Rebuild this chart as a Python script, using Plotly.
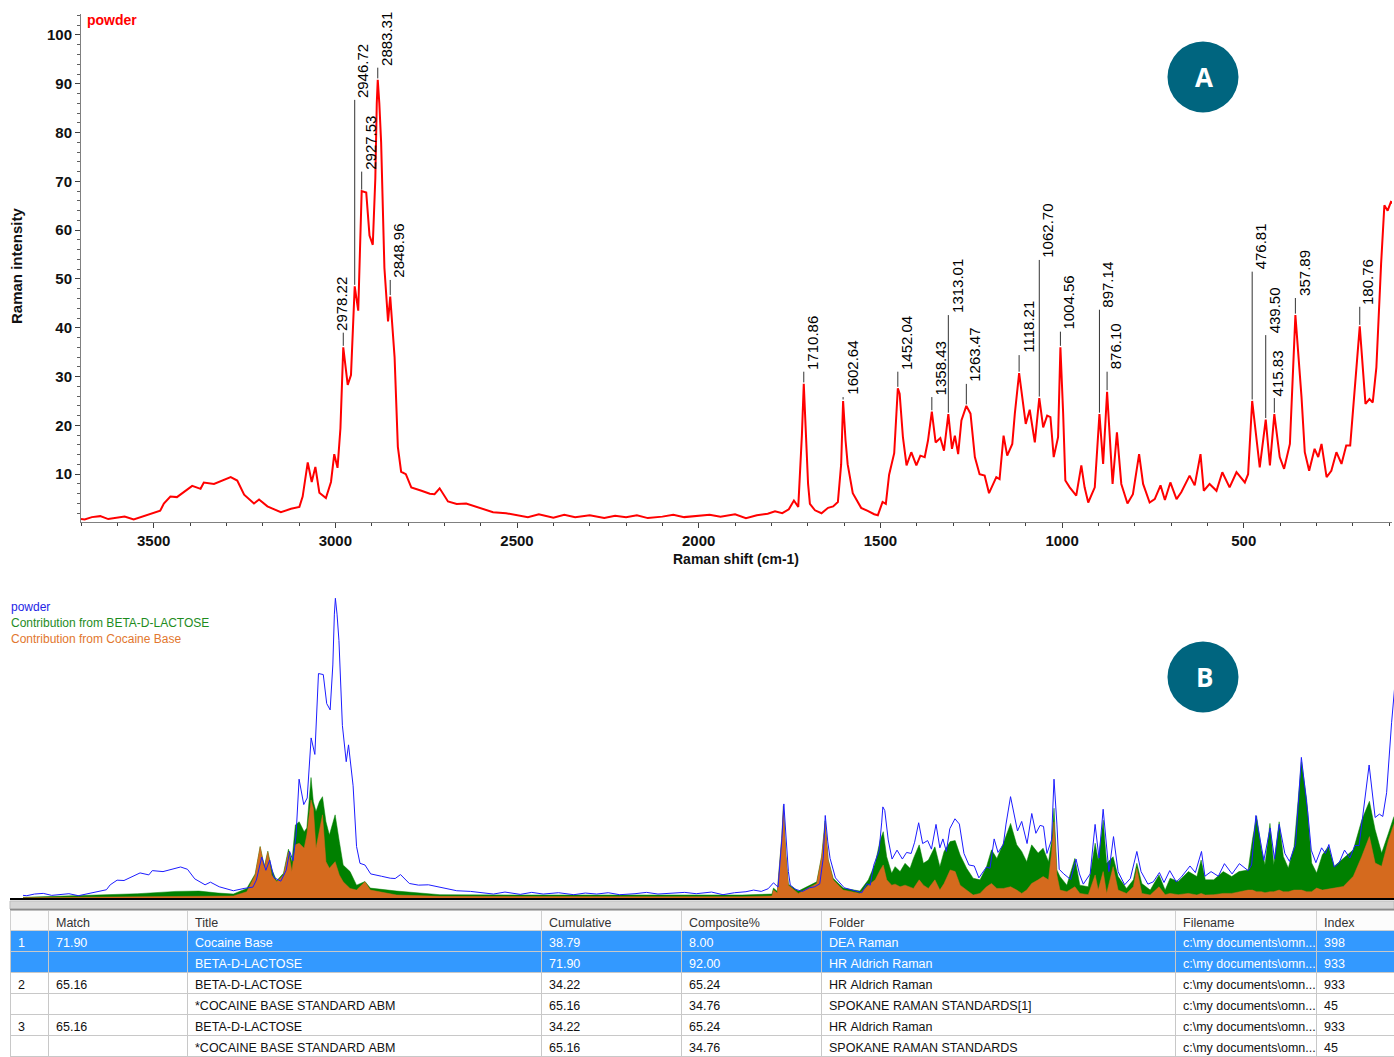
import plotly.graph_objects as go

# ---------------- data ----------------
shift = [3700, 3690, 3670, 3647, 3625, 3601, 3580, 3555, 3528, 3500, 3482, 3472, 3454, 3436, 3417, 3394,
         3371, 3362, 3334, 3307, 3288, 3270, 3251, 3224, 3210, 3187, 3150, 3122, 3099, 3090, 3076, 3065,
         3055, 3044, 3026, 3012, 3003, 2994, 2986, 2978.22, 2966, 2957, 2946.72, 2937, 2927.53, 2915,
         2906, 2897, 2890, 2886, 2883.31, 2879, 2874, 2865, 2855, 2848.96, 2837, 2828, 2819, 2806, 2791,
         2763, 2740, 2727, 2713, 2690, 2666, 2640, 2611, 2566, 2530, 2500, 2470, 2440, 2400, 2370, 2340,
         2300, 2260, 2230, 2200, 2170, 2140, 2100, 2070, 2040, 2000, 1970, 1940, 1900, 1870, 1840, 1810,
         1790, 1770, 1752, 1738, 1726, 1716, 1710.86, 1706, 1699, 1694, 1680, 1662, 1644, 1630, 1617,
         1608, 1602.64, 1596, 1590, 1576, 1553, 1535, 1517, 1507, 1494, 1485, 1476, 1462, 1455, 1452.04,
         1447, 1438, 1428, 1415, 1401, 1390, 1378, 1369, 1358.43, 1348, 1335, 1325, 1313.01, 1303, 1295,
         1286, 1277, 1263.47, 1252, 1240, 1227, 1213, 1201, 1181, 1172, 1161, 1151, 1137, 1130, 1118.21,
         1100, 1089, 1075, 1062.70, 1052, 1041, 1032, 1023, 1011, 1004.56, 997, 991, 979, 961, 947, 938,
         928, 910, 897.14, 887, 876.10, 861, 849, 837, 820, 805, 788, 777, 759, 745, 729, 717, 702, 685,
         672, 649, 635, 619, 610, 594, 575, 559, 539, 520, 497, 488, 476.81, 456, 439.50, 428, 415.83,
         401, 389, 373, 357.89, 341, 332, 320, 305, 295, 286, 272, 259, 245, 231, 218, 207, 195, 180.76,
         165, 154, 145, 135, 122, 113, 104, 95, 88]
powder = [0.8, 0.7, 1.2, 1.4, 0.8, 1.0, 1.3, 0.7, 1.4, 2.1, 2.5, 4.0, 5.4, 5.3, 6.3, 7.6,
          7.0, 8.3, 8.0, 8.9, 9.4, 8.7, 5.8, 4.0, 4.8, 3.4, 2.2, 2.9, 3.3, 5.4, 12.4, 8.4,
          11.5, 6.2, 5.1, 8.4, 14.1, 11.3, 19.4, 36.0, 28.3, 30.3, 48.5, 43.5, 68.0, 67.7,
          58.9, 57.0, 70.6, 86.0, 90.8, 86.0, 78.0, 52.3, 41.3, 46.4, 34.0, 15.6, 10.5, 10.0, 7.3,
          6.6, 6.0, 5.9, 7.1, 4.4, 3.9, 4.0, 3.3, 2.2, 2.0, 1.6, 1.2, 1.8, 1.1, 1.7, 1.2,
          1.6, 1.0, 1.5, 1.2, 1.6, 1.0, 1.3, 1.7, 1.2, 1.4, 1.7, 1.3, 1.8, 1.0, 1.6, 1.9,
          2.4, 2.0, 2.8, 4.6, 3.3, 18.0, 28.5, 20.0, 8.0, 3.9, 2.6, 2.0, 3.1, 3.4, 4.3,
          12.0, 25.0, 17.0, 12.0, 6.1, 3.1, 2.5, 1.8, 1.6, 4.3, 3.9, 9.9, 14.3, 23.0, 27.6,
          26.5, 17.6, 11.8, 14.5, 11.8, 13.8, 13.5, 16.9, 22.8, 16.5, 17.4, 14.8, 22.3, 15.2, 17.9,
          14.1, 21.0, 24.0, 22.4, 13.5, 10.0, 9.7, 6.1, 9.4, 9.0, 17.9, 13.8, 16.2, 22.4, 30.7,
          20.3, 23.2, 16.5, 25.6, 19.6, 22.0, 21.7, 13.5, 17.6, 36.0, 22.4, 8.7, 7.3, 5.6, 11.8, 7.3,
          4.2, 7.3, 22.3, 12.1, 26.9, 8.0, 18.6, 8.0, 4.0, 5.9, 14.1, 8.0, 4.2, 4.9, 7.7, 4.7, 8.3, 4.9,
          6.3, 9.7, 7.7, 14.1, 6.6, 8.0, 6.6, 10.4, 7.3, 10.4, 8.3, 10.0, 25.0, 11.4, 21.2, 11.8, 22.3,
          13.5, 11.1, 16.2, 42.6, 25.8, 14.5, 10.7, 15.2, 13.5, 16.2, 9.4, 10.7, 14.5, 12.1, 15.9, 15.9, 27.1, 40.3,
          24.4, 25.4, 24.7, 31.9, 53.1, 65.1, 64.0, 65.8, 65.5]

peak_shifts = [2978.22, 2946.72, 2927.53, 2883.31, 2848.96, 1710.86, 1602.64, 1452.04, 1358.43,
               1313.01, 1263.47, 1118.21, 1062.70, 1004.56, 897.14, 876.10, 476.81, 439.50, 415.83,
               357.89, 180.76]

comp_shift = [3700, 3600, 3500, 3400, 3300, 3240, 3190, 3150, 3115, 3093, 3080, 3069, 3060, 3050, 3037,
              3019, 3006, 2997, 2988, 2978, 2965, 2958, 2947, 2941, 2934, 2925, 2917, 2908, 2899, 2884,
              2873, 2863, 2845, 2828, 2806, 2792, 2723, 2610, 2400, 2100, 1820, 1742, 1738, 1728, 1716,
              1712, 1706, 1699, 1673, 1625, 1612, 1603, 1595, 1582, 1556, 1512, 1490, 1472, 1459, 1451,
              1442, 1429, 1420, 1407, 1394, 1381, 1372, 1357, 1346, 1333, 1316, 1303, 1292, 1276, 1263,
              1250, 1233, 1216, 1198, 1181, 1168, 1154, 1137, 1118, 1102, 1089, 1076, 1063, 1046, 1033,
              1019, 1011, 1004.5, 997, 989, 971, 950, 937, 915, 897, 889, 876, 867, 850, 837, 815, 797,
              788, 775, 753, 730, 714, 701, 680, 653, 631, 620, 609, 587, 562, 540, 521, 497, 486, 475,
              462, 453, 440, 430, 416, 405, 392, 377, 357.5, 344, 331, 318, 303, 287, 272, 248, 222, 200,
              180, 165, 148, 130, 117, 105]
lactose = [0.2, 0.5, 0.9, 1.3, 2.0, 2.1, 1.5, 1.2, 2.9, 7.3, 15.6, 9.6, 14.2, 8.8, 5.2,
           7.5, 14.8, 11.0, 22.1, 23.1, 20.1, 21.2, 36.5, 29.2, 26.2, 29.2, 30.7, 23.1, 19.1, 25.2,
           17.1, 10.0, 8.0, 3.9, 5.0, 3.0, 2.1, 1.0, 0.9, 0.8, 0.9, 1.2, 3.0, 2.0, 18.8,
           28.0, 14.0, 4.2, 2.1, 4.9, 12.7, 23.4, 11.7, 6.0, 3.0, 2.1, 5.5, 10.5, 17.6, 20.1,
           12.5, 7.5, 9.5, 8.0, 10.5, 9.0, 12.0, 16.1, 10.5, 11.5, 15.5, 9.5, 14.1, 17.1, 17.4,
           13.0, 9.0, 6.0, 5.5, 9.5, 14.6, 12.0, 16.6, 22.6, 16.1, 14.1, 11.0, 16.1, 13.6, 15.1,
           11.0, 17.0, 27.2, 8.5, 6.5, 3.9, 12.0, 3.9, 3.4, 16.6, 11.5, 23.6, 10.5, 12.5, 6.5, 2.9, 5.5,
           10.5, 4.4, 2.4, 7.0, 2.4, 6.0, 5.0, 8.0, 6.5, 11.5, 5.5, 5.5, 8.0, 6.5, 8.0, 8.5, 17.6, 24.9,
           14.6, 10.1, 22.6, 10.1, 23.1, 12.6, 9.1, 15.6, 41.3, 29.8, 10.6, 7.6, 13.1, 15.6, 9.6, 12.1, 14.6, 23.6,
           29.3, 20.7, 13.6, 19.7, 24.3, 27.0]
cocaine = [0.1, 0.2, 0.3, 0.4, 0.5, 0.6, 0.6, 0.6, 1.9, 7.0, 15.5, 9.0, 14.0, 7.0, 4.9,
           7.0, 14.0, 8.0, 16.1, 16.6, 15.1, 19.1, 29.7, 27.2, 15.1, 21.1, 25.2, 11.0, 9.0, 11.0,
           7.0, 4.9, 2.9, 2.4, 4.9, 2.4, 0.9, 0.5, 0.4, 0.4, 0.4, 0.6, 2.4, 1.5, 18.6,
           27.7, 13.6, 3.9, 1.4, 4.4, 12.5, 22.6, 11.5, 5.5, 2.4, 1.4, 3.9, 5.5, 8.5, 10.0,
           5.5, 3.9, 4.2, 3.4, 3.9, 3.4, 2.9, 5.5, 3.9, 2.9, 5.5, 2.4, 4.4, 8.5, 8.0,
           3.9, 2.4, 0.9, 1.4, 3.4, 4.4, 2.9, 2.9, 3.4, 2.4, 1.4, 2.4, 4.4, 5.5, 6.5,
           5.5, 13.5, 23.1, 7.0, 2.4, 1.9, 3.4, 1.4, 1.0, 7.0, 2.4, 8.0, 1.4, 9.5, 2.4, 1.4, 3.4,
           9.0, 1.4, 0.9, 3.4, 1.0, 1.4, 1.0, 1.4, 0.9, 1.4, 0.9, 1.0, 1.4, 1.4, 1.9, 2.4, 2.4, 1.9,
           1.9, 1.6, 1.9, 1.9, 2.4, 1.9, 1.9, 2.4, 2.4, 1.9, 1.9, 3.0, 2.4, 2.6, 3.0, 3.5, 6.6, 12.6,
           18.6, 10.6, 9.6, 17.6, 22.0, 25.0]

table_header = ["", "Match", "Title", "Cumulative", "Composite%", "Folder", "Filename", "Index"]
row_no = ["1", "", "2", "", "3", ""]
match = ["71.90", "", "65.16", "", "65.16", ""]
title = ["Cocaine Base", "BETA-D-LACTOSE", "BETA-D-LACTOSE", "*COCAINE BASE STANDARD ABM",
         "BETA-D-LACTOSE", "*COCAINE BASE STANDARD ABM"]
cumulative = ["38.79", "71.90", "34.22", "65.16", "34.22", "65.16"]
composite = ["8.00", "92.00", "65.24", "34.76", "65.24", "34.76"]
folder = ["DEA Raman", "HR Aldrich Raman", "HR Aldrich Raman", "SPOKANE RAMAN STANDARDS[1]",
          "HR Aldrich Raman", "SPOKANE RAMAN STANDARDS"]
filename = ["c:\\my documents\\omn..."] * 6
index_col = ["398", "933", "933", "45", "933", "45"]
selected_rows = [True, True, False, False, False, False]

# ---------------- layout helpers (positions / styles) ----------------
W, H = 1394, 1057
FONT = "Arial, Liberation Sans, sans-serif"
NBSP = "\u00a0"


def px_x(p):
    return p / W


def px_y(p):
    return 1 - p / H


def nowrap(col):
    return [s.replace(" ", NBSP) for s in col]


# label heights (where leader line ends / text begins), and horizontal text offsets
label_base = [39.0, 86.7, 72.0, 93.3, 49.8, 31.0, 25.8, 31.0, 25.8, 42.6, 28.5, 34.4, 53.9, 39.2,
              43.7, 31.0, 51.5, 38.5, 25.6, 46.1, 44.3]
label_dx = {2978.22: -2, 415.83: 3}

peak_y = dict(zip(shift, powder))

fig = go.Figure()

# top spectrum
fig.add_trace(go.Scatter(x=shift, y=powder, mode="lines",
                         line=dict(color="#FF0000", width=2), xaxis="x", yaxis="y",
                         hoverinfo="skip"))

# bottom panel: contributions and powder
fig.add_trace(go.Scatter(x=comp_shift, y=lactose, mode="lines", fill="tozeroy",
                         line=dict(color="#008000", width=0.5), fillcolor="#008000",
                         xaxis="x2", yaxis="y2", hoverinfo="skip"))
fig.add_trace(go.Scatter(x=comp_shift, y=cocaine, mode="lines", fill="tozeroy",
                         line=dict(color="#D56A1E", width=0.5), fillcolor="#D56A1E",
                         xaxis="x2", yaxis="y2", hoverinfo="skip"))
fig.add_trace(go.Scatter(x=shift, y=powder, mode="lines",
                         line=dict(color="#1C1CFF", width=1), xaxis="x2", yaxis="y2",
                         hoverinfo="skip"))

# table
row_fill = ["#3399FF" if s else "#FFFFFF" for s in selected_rows]
row_font = ["#FFFFFF" if s else "#111111" for s in selected_rows]
cols = [row_no, match, title, cumulative, composite, folder, filename, index_col]
fig.add_trace(go.Table(
    domain=dict(x=[px_x(10), 1.0], y=[0.0, px_y(910)]),
    columnwidth=[38, 139, 354, 140, 140, 354, 141, 78],
    header=dict(values=table_header, fill_color="#FCFCFC", line_color="#D0D0D0",
                align="left", height=20,
                font=dict(family=FONT, size=12.5, color="#333333")),
    cells=dict(values=[nowrap(c) for c in cols],
               fill_color=[row_fill] * 8, line_color="#C8C8C8", align="left", height=21,
               font=dict(family=FONT, size=12.5, color=[row_font] * 8)),
))

shapes = []
annotations = []

# peak leader lines and labels
for xv, base in zip(peak_shifts, label_base):
    yv = peak_y[xv]
    shapes.append(dict(type="line", xref="x", yref="y", x0=xv, x1=xv, y0=yv + 0.3, y1=base,
                       line=dict(color="#333333", width=1)))
    annotations.append(dict(x=xv, y=base, xref="x", yref="y", text=f"{xv:.2f}", textangle=-90,
                            showarrow=False, xanchor="center", yanchor="bottom",
                            xshift=label_dx.get(xv, 8.5), yshift=0,
                            font=dict(family=FONT, size=15, color="#000000")))

# circles A and B
for cy, letter in [(77, "A"), (677, "B")]:
    shapes.append(dict(type="circle", xref="paper", yref="paper",
                       x0=px_x(1203 - 35.5), x1=px_x(1203 + 35.5),
                       y0=px_y(cy + 35.5), y1=px_y(cy - 35.5),
                       fillcolor="#00657F", line=dict(width=0), layer="above"))
    annotations.append(dict(x=px_x(1204), y=px_y(cy), xref="paper", yref="paper", text=letter,
                            showarrow=False, xanchor="center", yanchor="middle",
                            font=dict(family="Open Sans, Arial", size=26, color="white",
                                      weight="bold")))

# splitter band above the table
shapes.append(dict(type="rect", xref="paper", yref="paper", x0=px_x(10), x1=1.0,
                   y0=px_y(909), y1=px_y(901), fillcolor="#D6D6D6",
                   line=dict(color="#BDBDBD", width=1), layer="above"))
shapes.append(dict(type="line", xref="paper", yref="paper", x0=px_x(10), x1=1.0,
                   y0=px_y(909.5), y1=px_y(909.5), line=dict(color="#8A8A8A", width=1.5)))

# texts
annotations.append(dict(x=px_x(85), y=px_y(20), xref="paper", yref="paper", text="powder",
                        showarrow=False, xanchor="left", yanchor="middle",
                        font=dict(family=FONT, size=14, color="#FF0000", weight="bold")))
annotations.append(dict(x=px_x(736), y=px_y(559), xref="paper", yref="paper",
                        text="Raman shift (cm-1)", showarrow=False, xanchor="center",
                        yanchor="middle",
                        font=dict(family=FONT, size=14, color="#111111", weight="bold")))
annotations.append(dict(x=px_x(17), y=px_y(266), xref="paper", yref="paper",
                        text="Raman intensity", showarrow=False, textangle=-90,
                        xanchor="center", yanchor="middle",
                        font=dict(family=FONT, size=15, color="#111111", weight="bold")))
legend_items = [("powder", "#2424E6"), ("Contribution from BETA-D-LACTOSE", "#1E8C1E"),
                ("Contribution from Cocaine Base", "#E2772E")]
for i, (txt, col) in enumerate(legend_items):
    annotations.append(dict(x=px_x(9), y=px_y(607 + 16 * i), xref="paper", yref="paper",
                            text=txt, showarrow=False, xanchor="left", yanchor="middle",
                            font=dict(family=FONT, size=12, color=col)))

fig.update_layout(
    width=W, height=H, margin=dict(l=0, r=0, t=0, b=0),
    paper_bgcolor="white", plot_bgcolor="white", showlegend=False, hovermode=False,
    xaxis=dict(domain=[px_x(81), px_x(1392)], range=[3700, 92], anchor="y",
               tickvals=[3500, 3000, 2500, 2000, 1500, 1000, 500],
               ticks="outside", ticklen=5, tickcolor="#404040", showline=True,
               linecolor="#808080", linewidth=1, showgrid=False, zeroline=False,
               tickfont=dict(family=FONT, size=15, color="#111111", weight="bold"),
               minor=dict(dtick=100, tick0=0, ticks="outside", ticklen=3, tickcolor="#404040")),
    yaxis=dict(domain=[px_y(522), px_y(14)], range=[0.2, 104.3], anchor="x",
               tickvals=[10, 20, 30, 40, 50, 60, 70, 80, 90, 100],
               ticks="outside", ticklen=5, tickcolor="#404040", showline=True,
               linecolor="#808080", linewidth=1, showgrid=False, zeroline=False,
               tickfont=dict(family=FONT, size=15, color="#111111", weight="bold"),
               minor=dict(dtick=2, tick0=0, ticks="outside", ticklen=3, tickcolor="#606060")),
    xaxis2=dict(domain=[px_x(10), 1.0], range=[3734, 115.7], anchor="y2",
                showticklabels=False, ticks="", showline=True, linecolor="#000000",
                linewidth=1.5, showgrid=False, zeroline=False),
    yaxis2=dict(domain=[px_y(898), px_y(596)], range=[0, 91.5], anchor="x2",
                visible=False),
    shapes=shapes, annotations=annotations,
)

fig.write_html("out.html", config={"displayModeBar": False},
               post_script="document.body.style.margin='0';document.body.style.overflow='hidden';")
